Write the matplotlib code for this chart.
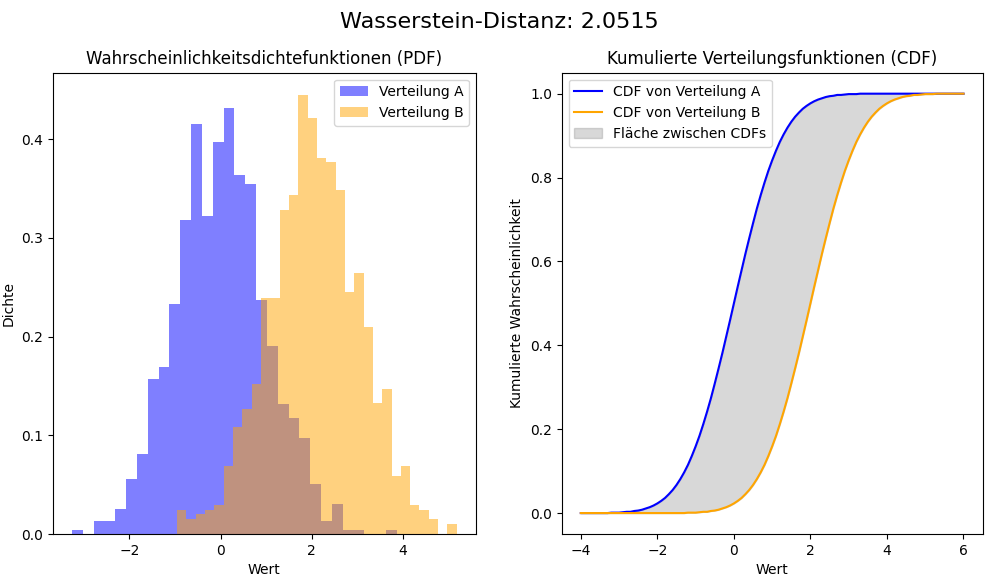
import numpy as np
import matplotlib
matplotlib.use('Agg')
import matplotlib.pyplot as plt

# histogram densities (30 bins each)
a_range = (-3.264, 3.872)
a_density = [0.004, 0.000, 0.013, 0.013, 0.025, 0.056, 0.081, 0.157, 0.169, 0.233,
             0.318, 0.415, 0.322, 0.397, 0.432, 0.364, 0.355, 0.237, 0.190, 0.132,
             0.118, 0.097, 0.051, 0.013, 0.030, 0.004, 0.004, 0.000, 0.000, 0.004]
b_range = (-0.956, 5.19)
b_density = [0.024, 0.015, 0.020, 0.024, 0.029, 0.069, 0.108, 0.127, 0.152, 0.239,
             0.239, 0.328, 0.343, 0.445, 0.421, 0.381, 0.377, 0.348, 0.245, 0.264,
             0.210, 0.133, 0.147, 0.059, 0.069, 0.029, 0.024, 0.015, 0.000, 0.010]

# CDF values, x = -4 .. 6 in steps of 0.1
cdf_x = np.round(np.arange(-40, 61) / 10, 1)
cdf_a = [0.000, 0.000, 0.000, 0.000, 0.000, 0.000, 0.000, 0.000, 0.001, 0.001,
         0.001, 0.002, 0.003, 0.003, 0.005, 0.006, 0.008, 0.011, 0.014, 0.018,
         0.023, 0.029, 0.036, 0.045, 0.055, 0.067, 0.081, 0.097, 0.115, 0.136,
         0.159, 0.184, 0.212, 0.242, 0.274, 0.309, 0.345, 0.382, 0.421, 0.460,
         0.500, 0.540, 0.579, 0.618, 0.655, 0.691, 0.726, 0.758, 0.788, 0.816,
         0.841, 0.864, 0.885, 0.903, 0.919, 0.933, 0.945, 0.955, 0.964, 0.971,
         0.977, 0.982, 0.986, 0.989, 0.992, 0.994, 0.995, 0.997, 0.997, 0.998,
         0.999, 0.999, 0.999, 1.000, 1.000, 1.000, 1.000, 1.000, 1.000, 1.000,
         1.000, 1.000, 1.000, 1.000, 1.000, 1.000, 1.000, 1.000, 1.000, 1.000,
         1.000, 1.000, 1.000, 1.000, 1.000, 1.000, 1.000, 1.000, 1.000, 1.000,
         1.000]
cdf_b = [0.000, 0.000, 0.000, 0.000, 0.000, 0.000, 0.000, 0.000, 0.000, 0.000,
         0.000, 0.000, 0.000, 0.000, 0.000, 0.000, 0.000, 0.000, 0.000, 0.000,
         0.000, 0.000, 0.000, 0.000, 0.000, 0.000, 0.000, 0.000, 0.001, 0.001,
         0.001, 0.002, 0.003, 0.003, 0.005, 0.006, 0.008, 0.011, 0.014, 0.018,
         0.023, 0.029, 0.036, 0.045, 0.055, 0.067, 0.081, 0.097, 0.115, 0.136,
         0.159, 0.184, 0.212, 0.242, 0.274, 0.309, 0.345, 0.382, 0.421, 0.460,
         0.500, 0.540, 0.579, 0.618, 0.655, 0.691, 0.726, 0.758, 0.788, 0.816,
         0.841, 0.864, 0.885, 0.903, 0.919, 0.933, 0.945, 0.955, 0.964, 0.971,
         0.977, 0.982, 0.986, 0.989, 0.992, 0.994, 0.995, 0.997, 0.997, 0.998,
         0.999, 0.999, 0.999, 1.000, 1.000, 1.000, 1.000, 1.000, 1.000, 1.000,
         1.000]

wasserstein = 2.0515

fig = plt.figure(figsize=(9.98, 5.83), dpi=100)
ax1 = fig.add_axes([0.0528, 0.084, 0.4242, 0.7913])
ax2 = fig.add_axes([0.5628, 0.084, 0.4218, 0.7913])

a_edges = np.linspace(a_range[0], a_range[1], len(a_density) + 1)
b_edges = np.linspace(b_range[0], b_range[1], len(b_density) + 1)
ax1.hist((a_edges[:-1] + a_edges[1:]) / 2, bins=a_edges, weights=a_density,
         color='blue', alpha=0.5, label='Verteilung A')
ax1.hist((b_edges[:-1] + b_edges[1:]) / 2, bins=b_edges, weights=b_density,
         color='orange', alpha=0.5, label='Verteilung B')
ax1.set_title('Wahrscheinlichkeitsdichtefunktionen (PDF)')
ax1.set_xlabel('Wert')
ax1.set_ylabel('Dichte')
ax1.legend(loc='upper right')

ax2.plot(cdf_x, cdf_a, color='blue', label='CDF von Verteilung A')
ax2.plot(cdf_x, cdf_b, color='orange', label='CDF von Verteilung B')
ax2.fill_between(cdf_x, cdf_a, cdf_b, color='gray', alpha=0.3, label='Fläche zwischen CDFs')
ax2.set_title('Kumulierte Verteilungsfunktionen (CDF)')
ax2.set_xlabel('Wert')
ax2.set_ylabel('Kumulierte Wahrscheinlichkeit')
ax2.legend(loc='upper left')

fig.suptitle(f'Wasserstein-Distanz: {wasserstein:.4f}', fontsize=16, y=0.98)

fig.savefig('out.png', dpi=100)
